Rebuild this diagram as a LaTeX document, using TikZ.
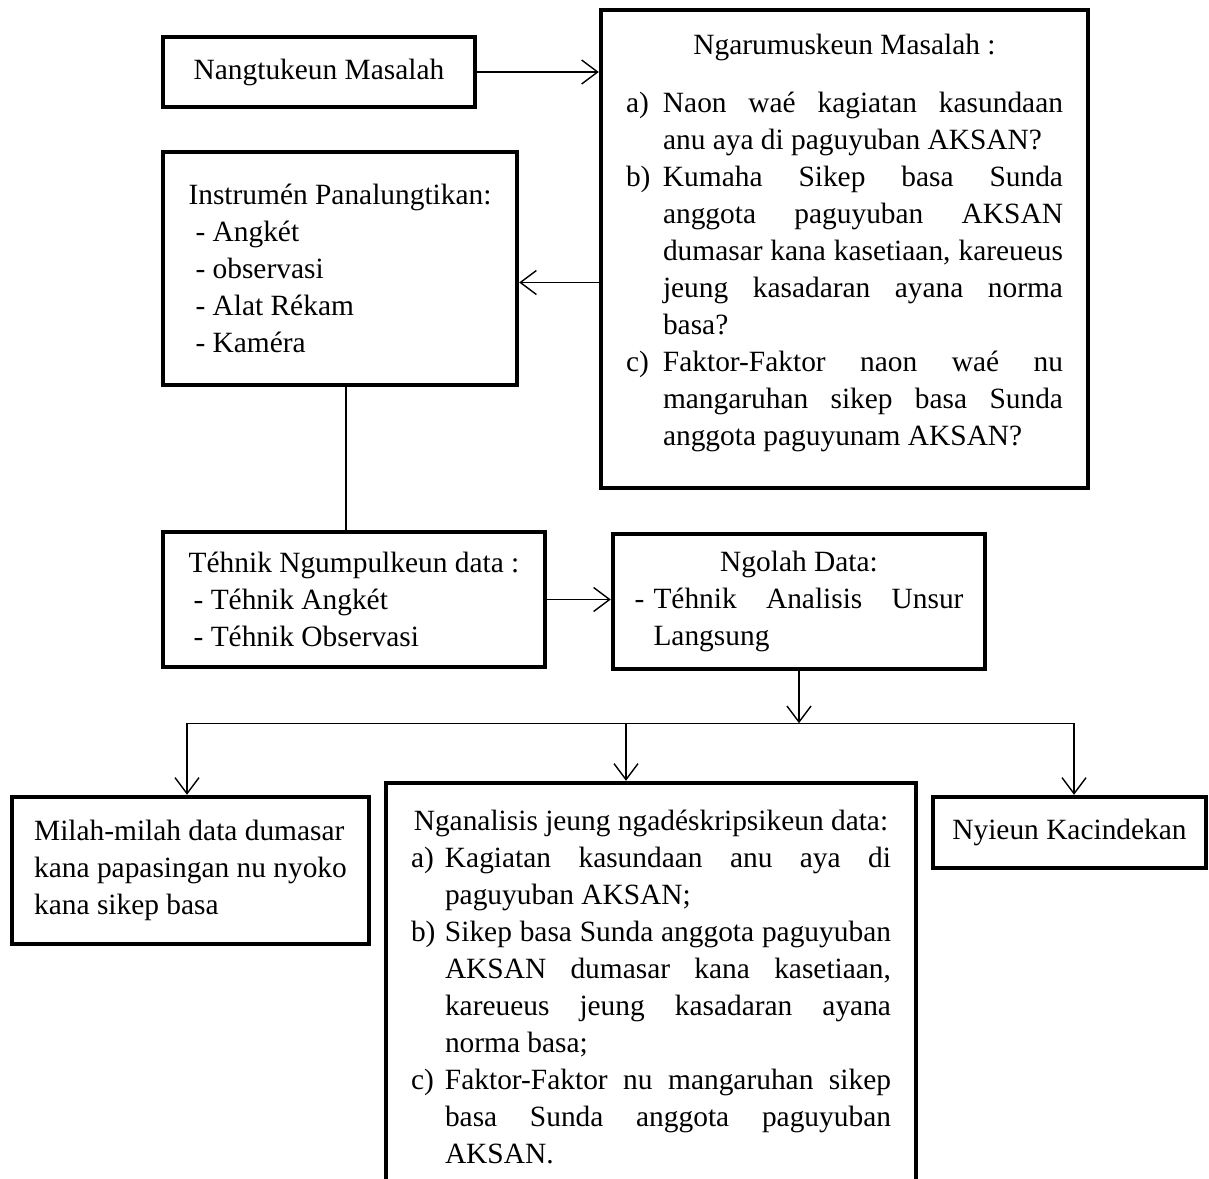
\documentclass[tikz,border=0pt]{standalone}
\usepackage{fontspec}
\setmainfont{Liberation Serif}
\usepackage{tikz}
\usetikzlibrary{arrows.meta}

% item with hanging label
\newcommand{\poin}[3]{\par\hangindent=#1\hangafter=1\noindent\makebox[#1][l]{#2}#3\par}

\begin{document}
\begin{tikzpicture}[
    x=0.5pt, y=-0.5pt,
    box/.style={draw, line width=2.2pt, inner sep=0pt, font=\fontsize{14.7}{18.5}\selectfont},
    arrow/.style={-{Straight Barb[length=8pt,width=12pt]}, line width=0.7pt},
    link/.style={line width=0.7pt}
]
\useasboundingbox (0,0) rectangle (1209,1178);

% Top row
\node[box, minimum width=156pt, minimum height=35pt] (nangtukeun) at (319,72) {Nangtukeun Masalah};

\node[box, minimum width=243.5pt, minimum height=239pt, text width=218.5pt, align=justify] (rumus) at (844.5,249) {%
{\centering Ngarumuskeun Masalah :\par}\vspace{10.5pt}
\poin{18.5pt}{a)}{Naon waé kagiatan kasundaan\linebreak anu aya di paguyuban AKSAN?}
\poin{18.5pt}{b)}{Kumaha Sikep basa Sunda\linebreak anggota paguyuban AKSAN\linebreak dumasar kana kasetiaan, kareueus\linebreak jeung kasadaran ayana norma\linebreak basa?}
\poin{18.5pt}{c)}{Faktor-Faktor naon waé nu\linebreak mangaruhan sikep basa Sunda\linebreak anggota paguyunam AKSAN?}\vspace*{6pt}\hrule height 0pt};

% Instrument box
\node[box, minimum width=177pt, minimum height=116.5pt, align=left] (instrumen) at (340,268.5) {%
Instrumén Panalungtikan:\\
\hspace*{3.5pt}- Angkét\\
\hspace*{3.5pt}- observasi\\
\hspace*{3.5pt}- Alat Rékam\\
\hspace*{3.5pt}- Kaméra};

% Middle row
\node[box, minimum width=191pt, minimum height=67.5pt, align=left] (teknik) at (354,599.5) {%
Téhnik Ngumpulkeun data :\\
\hspace*{2.5pt}- Téhnik Angkét\\
\hspace*{2.5pt}- Téhnik Observasi};

\node[box, minimum width=186pt, minimum height=67.5pt, text width=164.5pt, align=justify] (ngolah) at (799,601.5) {%
{\centering Ngolah Data:\par}
\poin{9.5pt}{-}{Téhnik Analisis Unsur\linebreak Langsung}};

% Bottom row
\node[box, minimum width=178.5pt, minimum height=73.5pt, align=left] (milah) at (190.5,870.5) {%
Milah-milah data dumasar\\
kana papasingan nu nyoko\\
kana sikep basa};

\node[box, minimum width=265pt, minimum height=203.5pt, text width=240pt, align=justify] (nganalisis) at (651,986.5) {%
{\centering Nganalisis jeung ngadéskripsikeun data:\par}
\poin{17pt}{a)}{Kagiatan kasundaan anu aya di\linebreak paguyuban AKSAN;}
\poin{17pt}{b)}{Sikep basa Sunda anggota paguyuban\linebreak AKSAN dumasar kana kasetiaan,\linebreak kareueus jeung kasadaran ayana\linebreak norma basa;}
\poin{17pt}{c)}{Faktor-Faktor nu mangaruhan sikep\linebreak basa Sunda anggota paguyuban\linebreak AKSAN.}};

\node[box, minimum width=136.5pt, minimum height=35.5pt] (kacindekan) at (1069.5,832.5) {Nyieun Kacindekan};

% Connectors top
\draw[arrow] (nangtukeun.east) -- (nangtukeun.east -| rumus.west);
\coordinate (instrIn) at ([yshift=-7pt]instrumen.east);
\draw[arrow] (instrIn -| rumus.west) -- (instrIn);
\draw[link] ([xshift=3pt]instrumen.south) -- ([xshift=3pt]instrumen.south |- teknik.north);
\draw[arrow] (teknik) -- (teknik -| ngolah.west);

% Branching to bottom row
\coordinate (bus) at ([yshift=-26pt]ngolah.south);
\coordinate (leftTop) at ([xshift=-1.75pt]milah.north);
\coordinate (midTop) at ([xshift=-12.5pt]nganalisis.north);
\coordinate (rightTop) at ([xshift=2.25pt]kacindekan.north);
\draw[arrow] (ngolah.south) -- (bus);
\draw[link] (leftTop |- bus) -- (rightTop |- bus);
\draw[arrow] (leftTop |- bus) -- (leftTop);
\draw[arrow] (midTop |- bus) -- (midTop);
\draw[arrow] (rightTop |- bus) -- (rightTop);

\end{tikzpicture}
\end{document}
